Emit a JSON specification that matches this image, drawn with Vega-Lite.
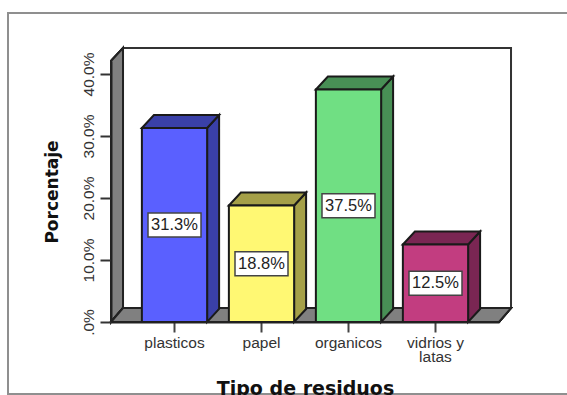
{
  "$schema": "https://vega.github.io/schema/vega-lite/v6.json",
  "width": 388,
  "height": 261,
  "autosize": {"type": "none"},
  "padding": {"left": 111, "top": 61, "right": 68, "bottom": 73},
  "background": "white",
  "view": {"stroke": null},
  "datasets": {
    "residuos": [
      {"tipo": "plasticos", "porcentaje": 0.313},
      {"tipo": "papel", "porcentaje": 0.188},
      {"tipo": "organicos", "porcentaje": 0.375},
      {"tipo": "vidrios y latas", "porcentaje": 0.125}
    ]
  },
  "data": {"name": "residuos"},
  "config": {"font": "Liberation Sans"},
  "encoding": {
    "x": {
      "field": "tipo",
      "type": "nominal",
      "sort": null,
      "scale": {"paddingInner": 0.25, "paddingOuter": 0.355},
      "axis": {
        "title": "Tipo de residuos",
        "titleFont": "DejaVu Sans",
        "titleFontSize": 19,
        "titleFontWeight": "bold",
        "titleColor": "#111111",
        "titleY": 57,
        "labelAngle": 0,
        "labelFontSize": 15.5,
        "labelColor": "#333333",
        "labelPadding": 3,
        "labelLineHeight": 14,
        "labelExpr": "datum.label == 'vidrios y latas' ? ['vidrios y', 'latas'] : datum.label",
        "tickSize": 10,
        "tickWidth": 2,
        "tickColor": "#444444",
        "domainColor": "#222222",
        "domainWidth": 2,
        "zindex": 1
      }
    },
    "y": {
      "field": "porcentaje",
      "type": "quantitative",
      "scale": {"domain": [0, 0.421], "nice": false},
      "axis": {
        "title": "Porcentaje",
        "titleFont": "DejaVu Sans",
        "titleFontSize": 17,
        "titleFontWeight": "bold",
        "titleColor": "#111111",
        "titleX": -50,
        "values": [0, 0.1, 0.2, 0.3, 0.4],
        "grid": false,
        "labelAngle": -90,
        "labelAlign": "center",
        "labelBaseline": "middle",
        "labelFontSize": 15.5,
        "labelColor": "#333333",
        "labelPadding": 12,
        "labelExpr": "datum.value == 0 ? '.0%' : format(datum.value, '.1%')",
        "tickSize": 11,
        "tickWidth": 2,
        "tickColor": "#333333",
        "domainColor": "#222222",
        "domainWidth": 2,
        "zindex": 1
      }
    }
  },
  "layer": [
    {
      "description": "outer figure frame",
      "mark": {"type": "point", "filled": false, "size": 4, "stroke": "#8f8f8f", "strokeWidth": 2, "opacity": 1,
        "shape": "M-166.5,-309H430V72H-166.5Z"},
      "encoding": {"x": {"datum": "plasticos"}, "y": {"datum": 0}}
    },
    {
      "description": "back wall",
      "mark": {"type": "point", "filled": true, "size": 4, "fill": "white", "stroke": "#333333", "strokeWidth": 2, "opacity": 1,
        "shape": "M-51.5,-274H336.5V-14H-51.5Z"},
      "encoding": {"x": {"datum": "plasticos"}, "y": {"datum": 0}}
    },
    {
      "description": "left wall",
      "mark": {"type": "point", "filled": true, "size": 4, "fill": "#808080", "stroke": "#222222", "strokeWidth": 2, "opacity": 1,
        "shape": "M-63.5,-261L-51.5,-274V-14L-63.5,0Z"},
      "encoding": {"x": {"datum": "plasticos"}, "y": {"datum": 0}}
    },
    {
      "description": "floor",
      "mark": {"type": "point", "filled": true, "size": 4, "fill": "#808080", "stroke": "#222222", "strokeWidth": 2, "opacity": 1,
        "shape": "M-63.5,0L-51.5,-14H336.5L324.5,0Z"},
      "encoding": {"x": {"datum": "plasticos"}, "y": {"datum": 0}}
    },
    {
      "description": "right-hand face of each bar",
      "mark": {"type": "point", "filled": true, "size": 4, "stroke": "#1a1a1a", "strokeWidth": 2, "opacity": 1},
      "encoding": {
        "fill": {"field": "tipo", "type": "nominal", "sort": null, "legend": null,
          "scale": {"range": ["#3A40A8", "#A5A048", "#488F55", "#7A2653"]}},
        "shape": {"field": "tipo", "type": "nominal", "sort": null, "legend": null,
          "scale": {"range": [
            "M32.6,0L44.6,-13V181L32.6,194Z",
            "M32.6,0L44.6,-13V103.6L32.6,116.6Z",
            "M32.6,0L44.6,-13V219.5L32.6,232.5Z",
            "M32.6,0L44.6,-13V64.5L32.6,77.5Z"
          ]}}
      }
    },
    {
      "description": "top face of each bar",
      "mark": {"type": "point", "filled": true, "size": 4, "stroke": "#1a1a1a", "strokeWidth": 2, "opacity": 1,
        "shape": "M-32.6,0L-20.6,-13H44.6L32.6,0Z"},
      "encoding": {
        "fill": {"field": "tipo", "type": "nominal", "sort": null, "legend": null,
          "scale": {"range": ["#3A40A8", "#A5A048", "#488F55", "#7A2653"]}}
      }
    },
    {
      "description": "front face of each bar",
      "mark": {"type": "bar", "stroke": "#1a1a1a", "strokeWidth": 2},
      "encoding": {
        "fill": {"field": "tipo", "type": "nominal", "sort": null, "legend": null,
          "scale": {"range": ["#5A60FF", "#FFF873", "#70DF83", "#C23D80"]}}
      }
    },
    {
      "description": "white boxes behind the value labels",
      "mark": {"type": "point", "filled": true, "size": 4, "fill": "white", "stroke": "#444444", "strokeWidth": 1.5, "opacity": 1,
        "shape": "M-26.5,-12H26.5V12H-26.5Z"},
      "encoding": {
        "y": {"field": "porcentaje", "type": "quantitative", "stack": "zero", "bandPosition": 0.5}
      }
    },
    {
      "description": "value labels",
      "mark": {"type": "text", "fontSize": 16.5, "color": "#222222", "baseline": "middle", "align": "center"},
      "encoding": {
        "y": {"field": "porcentaje", "type": "quantitative", "stack": "zero", "bandPosition": 0.5},
        "text": {"field": "porcentaje", "type": "quantitative", "format": ".1%"}
      }
    }
  ],
  "resolve": {"scale": {"fill": "independent", "shape": "independent"}}
}
